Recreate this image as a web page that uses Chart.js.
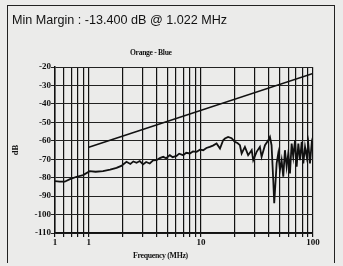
<!DOCTYPE html>
<html><head><meta charset="utf-8">
<script src="https://cdn.jsdelivr.net/npm/chart.js@4/dist/chart.umd.min.js"></script>
<style>
html,body{margin:0;padding:0;background:#ebebea;width:343px;height:266px;overflow:hidden;}
#wrap{position:relative;width:343px;height:266px;}
#frame{position:absolute;left:7px;top:5px;width:328px;height:258px;border:1.5px solid #222;border-bottom:none;box-sizing:border-box;}
#title{position:absolute;left:12px;top:13px;font:12.6px "Liberation Sans",Arial,sans-serif;color:#111;white-space:nowrap;}
#sub{position:absolute;left:130px;top:48px;font:bold 7.6px "Liberation Serif",serif;letter-spacing:-0.3px;color:#111;white-space:nowrap;}
#xt{position:absolute;left:133px;top:251px;font:bold 7.8px "Liberation Serif",serif;letter-spacing:-0.3px;color:#111;white-space:nowrap;}
canvas{position:absolute;left:0;top:0;}
</style></head>
<body><div id="wrap">
<canvas id="c" width="343" height="266"></canvas>
<div id="frame"></div>
<div id="title">Min Margin : -13.400 dB @ 1.022 MHz</div>
<div id="sub">Orange - Blue</div>
<div id="xt">Frequency (MHz)</div>
</div>
<script>
// Frequencies (MHz) of the measured trace
const measFreq = [0.5,0.55,0.61,0.68,0.78,0.89,1.02,1.15,1.34,1.55,1.77,1.95,2.17,2.35,2.5,2.67,2.85,3.05,3.25,3.5,3.75,4.02,4.3,4.61,4.9,5.29,5.6,6.07,6.4,6.95,7.4,7.97,8.5,9.16,9.8,10.5,11.2,12.0,12.8,13.8,14.8,15.8,16.4,17.5,18.8,20.1,21.2,22.3,23.1,24.7,26.4,28.4,29.3,31.4,33.6,34.8,37.3,39.9,41.3,42.7,44.2,45.1,47.4,49.0,50.7,52.5,54.3,56.2,58.2,60.2,62.3,64.5,66.7,69.1,71.5,74.0,76.6,79.3,82.0,84.9,87.9,90.8,94.0,97.3,100];
// Measured level (dB)
const measDb = [-81.9,-82.2,-82.2,-80.8,-79.5,-78.6,-76.5,-76.8,-76.4,-75.6,-74.7,-73.6,-71.4,-72.6,-71.2,-71.9,-71.0,-72.8,-71.5,-72.3,-70.6,-70.5,-69.4,-68.7,-69.5,-67.8,-68.9,-68.2,-67.0,-67.8,-66.5,-66.9,-65.8,-66.0,-64.8,-65.1,-63.9,-63.3,-62.6,-61.5,-64.2,-59.7,-58.8,-57.9,-58.6,-60.6,-61.2,-62.4,-66.9,-63.3,-67.8,-65.1,-70.5,-66.0,-63.3,-68.7,-62.4,-59.7,-57.9,-62.4,-81.3,-93.9,-72.3,-66.9,-75.9,-70.5,-79.5,-65.1,-74.1,-66.9,-77.7,-61.5,-68.7,-59.7,-74.1,-61.5,-70.5,-60.6,-72.3,-63.3,-68.7,-61.5,-72.3,-61.5,-65.1];
// Limit line
const limitFreq = [1, 100];
const limitDb = [-63.5, -23.5];
// Axis ticks
const xTickValues = [0.5,0.6,0.7,0.8,0.9,1,2,3,4,5,6,7,8,9,10,20,30,40,50,60,70,80,90,100];
const xTickLabels = {0.5:'1', 1:'1', 10:'10', 100:'100'};
const yTickValues = [-20,-30,-40,-50,-60,-70,-80,-90,-100,-110];

const serif = {family:'"Liberation Serif", serif', size:9, weight:'bold'};

new Chart(document.getElementById('c'), {
  type:'scatter',
  data:{datasets:[
    {data: limitFreq.map((f,i)=>({x:f,y:limitDb[i]})), showLine:true, borderColor:'#111', borderWidth:1.6, pointRadius:0},
    {data: measFreq.map((f,i)=>({x:f,y:measDb[i]})), showLine:true, borderColor:'#111', borderWidth:1.8, pointRadius:0, tension:0}
  ]},
  options:{
    responsive:false, animation:false,
    layout:{padding:{left:0,top:67,right:30,bottom:0}},
    plugins:{legend:{display:false}, tooltip:{enabled:false}},
    scales:{
      x:{type:'logarithmic', min:0.5, max:100,
        afterBuildTicks:s=>{s.ticks = xTickValues.map(v=>({value:v}));},
        afterFit:s=>{s.height=33;},
        grid:{color:'#111', lineWidth:1.2, tickLength:4, drawTicks:true},
        border:{color:'#111', width:1.5},
        ticks:{autoSkip:false, maxRotation:0, padding:0, color:'#111', font:serif,
          callback:(v)=> xTickLabels[v] !== undefined ? xTickLabels[v] : ''}
      },
      y:{type:'linear', min:-110, max:-20,
        afterBuildTicks:s=>{s.ticks = yTickValues.map(v=>({value:v}));},
        afterFit:s=>{s.width=55;},
        grid:{color:'#222', lineWidth:1, tickLength:4, borderDash:[3,1]},
        border:{color:'#111', width:1.5},
        ticks:{padding:0, color:'#111', font:serif},
        title:{display:true, text:'dB', color:'#111', font:{family:'"Liberation Serif", serif', size:8.5, weight:'bold'}, padding:{top:11,bottom:0}}
      }
    }
  }
});
</script>
</body></html>
